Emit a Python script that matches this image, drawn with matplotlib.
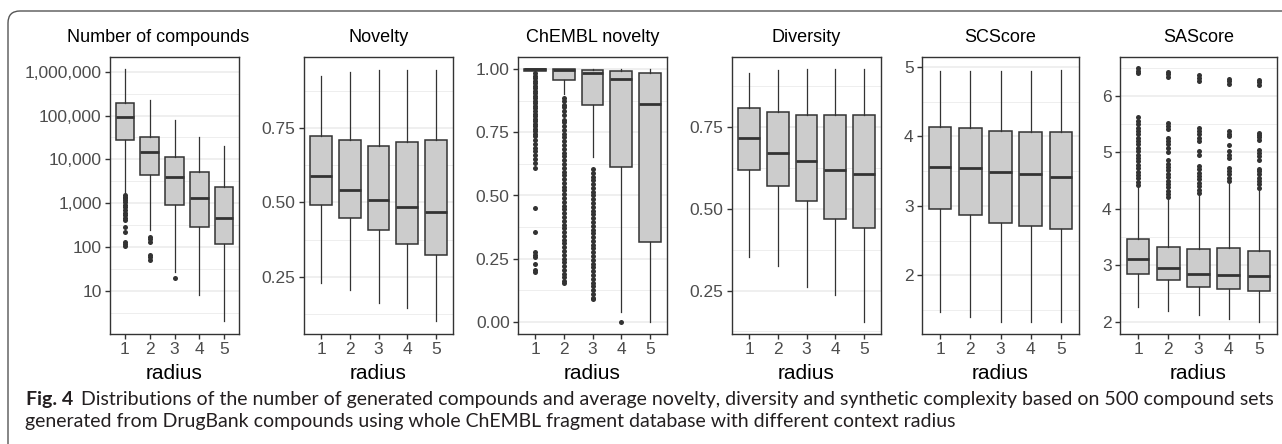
import matplotlib
matplotlib.use("Agg")
import matplotlib.pyplot as plt
from matplotlib.ticker import FixedLocator, NullFormatter, FuncFormatter
from matplotlib.patches import FancyBboxPatch
from matplotlib.transforms import IdentityTransform

plt.rcParams['font.family'] = ['Liberation Sans', 'DejaVu Sans']

W, H = 1282, 444
radius = [1, 2, 3, 4, 5]

# --- Number of compounds (log scale) ---
n_q1 = [27600, 4300, 906, 280, 115]
n_med = [91000, 14700, 3900, 1290, 450]
n_q3 = [190000, 32800, 11100, 5200, 2300]
n_lo = [1700, 240, 27, 8, 2]
n_hi = [1135000, 226000, 79000, 32800, 20400]
n_out = [[1530, 1400, 1300, 1170, 1050, 900, 800, 690, 600, 530, 470, 410, 290, 222, 131, 118, 105],
         [168, 150, 129, 65, 58, 50],
         [20], [], []]

# --- Novelty ---
nov_q1 = [0.492, 0.446, 0.407, 0.361, 0.323]
nov_med = [0.588, 0.540, 0.508, 0.485, 0.468]
nov_q3 = [0.722, 0.711, 0.690, 0.703, 0.711]
nov_lo = [0.228, 0.206, 0.161, 0.144, 0.102]
nov_hi = [0.924, 0.937, 0.944, 0.946, 0.946]
nov_out = [[], [], [], [], []]

# --- ChEMBL novelty ---
ch_q1 = [0.992, 0.958, 0.859, 0.612, 0.315]
ch_med = [1.0, 0.998, 0.987, 0.962, 0.861]
ch_q3 = [1.0, 1.0, 0.998, 0.995, 0.984]
ch_lo = [0.988, 0.902, 0.654, 0.04, 0.0]
ch_hi = [1.0, 1.0, 1.0, 1.0, 1.0]
ch_out = [[0.985, 0.975, 0.965, 0.955, 0.945, 0.935, 0.925, 0.915, 0.905, 0.895, 0.885, 0.875,
           0.865, 0.855, 0.845, 0.835, 0.825, 0.815, 0.805, 0.795, 0.785, 0.775, 0.765, 0.755,
           0.745, 0.735, 0.72, 0.705, 0.69, 0.675, 0.66, 0.645, 0.63, 0.61, 0.45, 0.355,
           0.275, 0.265, 0.255, 0.23, 0.205, 0.195],
          [0.885, 0.875, 0.86, 0.85, 0.835, 0.82, 0.80, 0.79, 0.775, 0.76, 0.745, 0.73, 0.715,
           0.70, 0.685, 0.67, 0.655, 0.64, 0.625, 0.61, 0.595, 0.58, 0.565, 0.55, 0.535, 0.52,
           0.505, 0.49, 0.475, 0.46, 0.445, 0.43, 0.415, 0.40, 0.385, 0.37, 0.355, 0.34, 0.325,
           0.31, 0.295, 0.28, 0.265, 0.25, 0.235, 0.22, 0.205, 0.19, 0.175, 0.16, 0.152],
          [0.605, 0.59, 0.575, 0.56, 0.545, 0.53, 0.515, 0.50, 0.485, 0.47, 0.455, 0.44, 0.425,
           0.41, 0.395, 0.38, 0.365, 0.35, 0.335, 0.32, 0.305, 0.29, 0.275, 0.26, 0.245, 0.23,
           0.215, 0.20, 0.185, 0.17, 0.155, 0.14, 0.125, 0.11, 0.095, 0.088],
          [0.0], []]

# --- Diversity ---
div_q1 = [0.619, 0.571, 0.524, 0.470, 0.440]
div_med = [0.718, 0.670, 0.647, 0.619, 0.606]
div_q3 = [0.810, 0.798, 0.787, 0.787, 0.787]
div_lo = [0.352, 0.326, 0.260, 0.237, 0.155]
div_hi = [0.917, 0.925, 0.928, 0.928, 0.928]
div_out = [[], [], [], [], []]

# --- SCScore ---
sc_q1 = [2.95, 2.868, 2.76, 2.71, 2.667]
sc_med = [3.553, 3.539, 3.49, 3.456, 3.418]
sc_q3 = [4.129, 4.114, 4.075, 4.065, 4.057]
sc_lo = [1.478, 1.405, 1.333, 1.333, 1.333]
sc_hi = [4.94, 4.94, 4.94, 4.94, 4.96]
sc_out = [[], [], [], [], []]

# --- SAScore ---
sa_q1 = [2.84, 2.74, 2.61, 2.57, 2.54]
sa_med = [3.11, 2.945, 2.84, 2.83, 2.81]
sa_q3 = [3.465, 3.317, 3.28, 3.31, 3.26]
sa_lo = [2.26, 2.18, 2.12, 2.04, 2.0]
sa_hi = [4.39, 4.16, 4.24, 4.45, 4.33]
sa_out = [[4.42, 4.48, 4.54, 4.60, 4.66, 4.72, 4.78, 4.84, 4.90, 4.96, 5.02, 5.08, 5.14, 5.20,
           5.26, 5.32, 5.38, 5.44, 5.50, 5.56, 5.62, 6.41, 6.45, 6.49],
          [4.20, 4.26, 4.32, 4.38, 4.44, 4.50, 4.56, 4.62, 4.68, 4.74, 4.80, 4.86, 5.00, 5.08,
           5.14, 5.20, 5.25, 5.42, 5.47, 5.52, 6.34, 6.38, 6.43],
          [4.28, 4.34, 4.40, 4.46, 4.52, 4.58, 4.64, 4.70, 4.76, 4.96, 5.02, 5.20, 5.26, 5.32,
           5.38, 5.44, 6.27, 6.32, 6.37],
          [4.49, 4.55, 4.61, 4.67, 4.72, 4.90, 4.96, 5.02, 5.13, 5.29, 5.33, 5.37, 6.21, 6.26, 6.30],
          [4.37, 4.43, 4.49, 4.55, 4.61, 4.67, 4.70, 4.87, 4.93, 4.99, 5.04, 5.22, 5.27, 5.31,
           5.35, 6.19, 6.24, 6.28]]


def stats(q1, med, q3, lo, hi, out):
    return [dict(med=m, q1=a, q3=b, whislo=l, whishi=h, fliers=f)
            for a, m, b, l, h, f in zip(q1, med, q3, lo, hi, out)]


# panel specs: title, stats, major ticks, minor grid, ylim, log?, pixel box, title centre
panels = [
    ("Number of compounds", stats(n_q1, n_med, n_q3, n_lo, n_hi, n_out),
     [10, 100, 1000, 10000, 100000, 1000000],
     [10 ** 0.5, 10 ** 1.5, 10 ** 2.5, 10 ** 3.5, 10 ** 4.5, 10 ** 5.5],
     (1.03, 2.17e6), True, (110, 239), 158),
    ("Novelty", stats(nov_q1, nov_med, nov_q3, nov_lo, nov_hi, nov_out),
     [0.25, 0.5, 0.75], [0.125, 0.375, 0.625, 0.875],
     (0.058, 0.988), False, (304, 453), None),
    ("ChEMBL novelty", stats(ch_q1, ch_med, ch_q3, ch_lo, ch_hi, ch_out),
     [0.0, 0.25, 0.5, 0.75, 1.0], [0.125, 0.375, 0.625, 0.875],
     (-0.049, 1.049), False, (518, 667), None),
    ("Diversity", stats(div_q1, div_med, div_q3, div_lo, div_hi, div_out),
     [0.25, 0.5, 0.75], [0.125, 0.375, 0.625, 0.875],
     (0.117, 0.965), False, (732, 881), None),
    ("SCScore", stats(sc_q1, sc_med, sc_q3, sc_lo, sc_hi, sc_out),
     [2, 3, 4, 5], [1.5, 2.5, 3.5, 4.5],
     (1.157, 5.14), False, (922, 1079), None),
    ("SAScore", stats(sa_q1, sa_med, sa_q3, sa_lo, sa_hi, sa_out),
     [2, 3, 4, 5, 6], [2.5, 3.5, 4.5, 5.5, 6.5],
     (1.78, 6.69), False, (1120, 1277), None),
]

fig = plt.figure(figsize=(W / 100, H / 100), dpi=100)
fig.patch.set_facecolor('white')

top_px, bot_px = 57, 334
dark = '#333333'

for title, st, majors, minors, ylim, is_log, (x0, x1), tcx in panels:
    ax = fig.add_axes([x0 / W, (H - bot_px) / H, (x1 - x0) / W, (bot_px - top_px) / H])
    ax.bxp(st, positions=radius, widths=0.75, patch_artist=True, showcaps=False,
           boxprops=dict(facecolor='#CCCCCC', edgecolor=dark, linewidth=1.1),
           medianprops=dict(color=dark, linewidth=2.0),
           whiskerprops=dict(color=dark, linewidth=0.9),
           flierprops=dict(marker='o', markersize=3.6, markerfacecolor=dark,
                           markeredgecolor='none', linestyle='none'))
    if is_log:
        ax.set_yscale('log')
        ax.yaxis.set_major_formatter(FuncFormatter(lambda v, p: f"{int(round(v)):,}"))
    elif isinstance(majors[0], float):
        ax.yaxis.set_major_formatter(FuncFormatter(lambda v, p: f"{v:.2f}"))
    else:
        ax.yaxis.set_major_formatter(FuncFormatter(lambda v, p: f"{int(v)}"))
    ax.yaxis.set_major_locator(FixedLocator(majors))
    ax.yaxis.set_minor_locator(FixedLocator(minors))
    ax.yaxis.set_minor_formatter(NullFormatter())
    ax.set_ylim(*ylim)
    ax.set_xlim(0.4, 5.6)
    ax.set_xticks(radius)
    ax.set_xticklabels([str(r) for r in radius])
    ax.xaxis.set_minor_locator(FixedLocator([]))
    ax.set_axisbelow(True)
    ax.yaxis.grid(True, which='major', color='#EBEBEB', linewidth=1.1)
    ax.yaxis.grid(True, which='minor', color='#EBEBEB', linewidth=0.6)
    ax.xaxis.grid(False)
    for s in ax.spines.values():
        s.set_color(dark)
        s.set_linewidth(1.0)
    ax.tick_params(which='major', length=3.5, width=1.0, color=dark,
                   labelcolor='#4D4D4D', labelsize=12.5, pad=2.5)
    ax.tick_params(which='minor', length=0)

    ty = (bot_px - 42.5) / (bot_px - top_px)
    tx = 0.5 if tcx is None else (tcx - x0) / (x1 - x0)
    ax.text(tx, ty, title, transform=ax.transAxes, ha='center', va='baseline',
            fontsize=13, color='black')
    ax.text(0.5, (bot_px - 379) / (bot_px - top_px), "radius", transform=ax.transAxes,
            ha='center', va='baseline', fontsize=15, color='black')

# rounded frame (only top and left edges visible)
frame = FancyBboxPatch((8, -60), 1400, (H - 11) + 60,
                       boxstyle="round,pad=0,rounding_size=12",
                       transform=IdentityTransform(), facecolor='none',
                       edgecolor='#555555', linewidth=1.0, clip_on=False)
fig.add_artist(frame)

# caption
cap_font = ['Lato', 'DejaVu Sans']
cap_col = '#231F20'
line1 = "Distributions of the number of generated compounds and average novelty, diversity and synthetic complexity based on 500 compound sets"
line2 = "generated from DrugBank compounds using whole ChEMBL fragment database with different context radius"
size = 12.0
t_fig = fig.text(26 / W, (H - 405) / H, "Fig. 4", fontsize=size, fontweight='bold',
                 family=cap_font, color=cap_col, va='baseline')
t_l1 = fig.text(0, (H - 405) / H, line1, fontsize=size, family=cap_font,
                color=cap_col, va='baseline')
r = fig.canvas.get_renderer()
for _ in range(3):
    t_fig.set_fontsize(size)
    t_l1.set_fontsize(size)
    fig.canvas.draw()
    bx = t_fig.get_window_extent(r).x1
    t_l1.set_x((bx + 8) / W)
    fig.canvas.draw()
    right = t_l1.get_window_extent(r).x1
    size = size * (1275 - 26) / (right - 26)
t_fig.set_fontsize(size)
t_l1.set_fontsize(size)
fig.canvas.draw()
t_l1.set_x((t_fig.get_window_extent(r).x1 + 8) / W)
fig.text(25 / W, (H - 427) / H, line2, fontsize=size, family=cap_font,
         color=cap_col, va='baseline')

fig.savefig("out.png", dpi=100)
